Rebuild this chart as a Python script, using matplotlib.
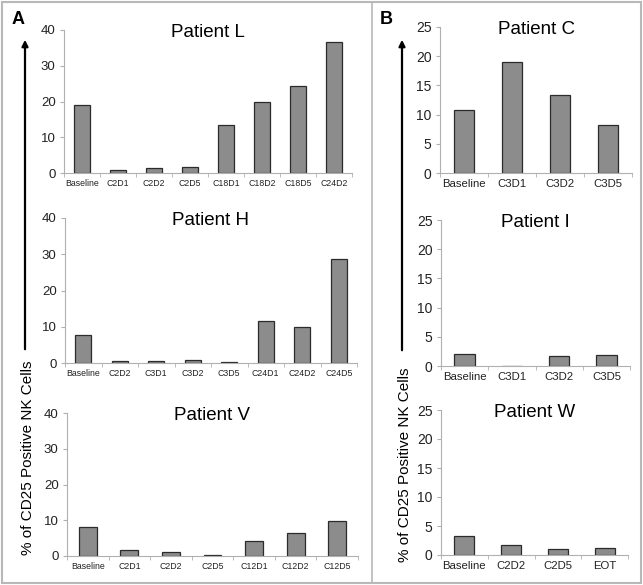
import matplotlib
matplotlib.use('Agg')
import matplotlib.pyplot as plt
from matplotlib.patches import FancyArrowPatch, Rectangle
from matplotlib.lines import Line2D

plt.rcParams['font.family'] = ['Liberation Sans', 'DejaVu Sans']

# Panel A data
l_labels = ['Baseline', 'C2D1', 'C2D2', 'C2D5', 'C18D1', 'C18D2', 'C18D5', 'C24D2']
l_values = [19.0, 0.8, 1.3, 1.8, 13.5, 19.8, 24.3, 36.7]

h_labels = ['Baseline', 'C2D2', 'C3D1', 'C3D2', 'C3D5', 'C24D1', 'C24D2', 'C24D5']
h_values = [7.8, 0.6, 0.5, 0.9, 0.3, 11.6, 10.0, 28.8]

v_labels = ['Baseline', 'C2D1', 'C2D2', 'C2D5', 'C12D1', 'C12D2', 'C12D5']
v_values = [8.1, 1.6, 1.1, 0.4, 4.1, 6.4, 9.7]

# Panel B data
c_labels = ['Baseline', 'C3D1', 'C3D2', 'C3D5']
c_values = [10.8, 19.0, 13.3, 8.3]

i_labels = ['Baseline', 'C3D1', 'C3D2', 'C3D5']
i_values = [2.1, 0.0, 1.7, 1.9]

w_labels = ['Baseline', 'C2D2', 'C2D5', 'EOT']
w_values = [3.2, 1.8, 1.1, 1.2]

W, H = 643, 585
fig = plt.figure(figsize=(W / 100, H / 100), dpi=100)


def px_axes(x0, x1, y_top, y_bot):
    # pixel box -> figure fraction
    return fig.add_axes([x0 / W, 1 - y_bot / H, (x1 - x0) / W, (y_bot - y_top) / H])


def bar_panel(ax, labels, values, title, ymax, step, xfs, yfs):
    n = len(labels)
    x = list(range(n))
    ax.bar(x, values, width=0.43, color='#8c8c8c', edgecolor='#2b2b2b', linewidth=0.9)
    ax.set_xlim(-0.5, n - 0.5)
    ax.set_ylim(0, ymax)
    ax.set_yticks(range(0, ymax + 1, step))
    ax.set_xticks(x)
    ax.set_xticklabels(labels, fontsize=xfs, color='#222222')
    ax.set_xticks([k - 0.5 for k in range(n + 1)], minor=True)
    ax.tick_params(axis='x', which='major', length=0, pad=4)
    ax.tick_params(axis='x', which='minor', length=3, color='#b0b0b0', direction='out')
    ax.tick_params(axis='y', labelsize=yfs, length=3, color='#b0b0b0', labelcolor='#222222', pad=3)
    for s in ['top', 'right']:
        ax.spines[s].set_visible(False)
    for s in ['left', 'bottom']:
        ax.spines[s].set_color('#b0b0b0')
        ax.spines[s].set_linewidth(0.8)
    ax.text(0.5, 0.985, title, transform=ax.transAxes, ha='center', va='center', fontsize=13.5)


ax = px_axes(64, 352, 30, 173)
bar_panel(ax, l_labels, l_values, 'Patient L', 40, 10, 6.3, 9.5)
ax = px_axes(65, 357, 218, 363)
bar_panel(ax, h_labels, h_values, 'Patient H', 40, 10, 6.3, 9.5)
ax = px_axes(67, 358, 413, 556)
bar_panel(ax, v_labels, v_values, 'Patient V', 40, 10, 6.3, 9.5)

ax = px_axes(440, 632, 27, 173)
bar_panel(ax, c_labels, c_values, 'Patient C', 25, 5, 8.2, 10)
ax = px_axes(441, 630, 220, 366)
bar_panel(ax, i_labels, i_values, 'Patient I', 25, 5, 8.2, 10)
ax = px_axes(441, 628, 410, 555)
bar_panel(ax, w_labels, w_values, 'Patient W', 25, 5, 8.2, 10)

# frame around the figure and divider between panels
fig.add_artist(Rectangle((2 / W, 2 / H), (W - 4) / W, (H - 4) / H, transform=fig.transFigure,
                         fill=False, edgecolor='#b8b8b8', linewidth=1.5))
fig.add_artist(Line2D([372 / W, 372 / W], [2 / H, 1 - 2 / H], transform=fig.transFigure,
                      color='#b8b8b8', linewidth=1.2))

# panel letters
fig.text(12 / W, 1 - 20 / H, 'A', fontsize=13, fontweight='bold', va='center')
fig.text(380 / W, 1 - 20 / H, 'B', fontsize=13, fontweight='bold', va='center')

# upward arrows with y labels
for ax_x, y_bot, lab_y in [(25, 352, 458), (402, 353, 465)]:
    fig.add_artist(FancyArrowPatch((ax_x / W, 1 - y_bot / H), (ax_x / W, 1 - 37 / H),
                                   transform=fig.transFigure, arrowstyle='-|>',
                                   mutation_scale=9, color='black', linewidth=1.6))
    fig.text((ax_x + 3) / W, 1 - lab_y / H, '% of CD25 Positive NK Cells', rotation=90,
             ha='center', va='center', fontsize=11)

fig.savefig('out.png', dpi=100)
